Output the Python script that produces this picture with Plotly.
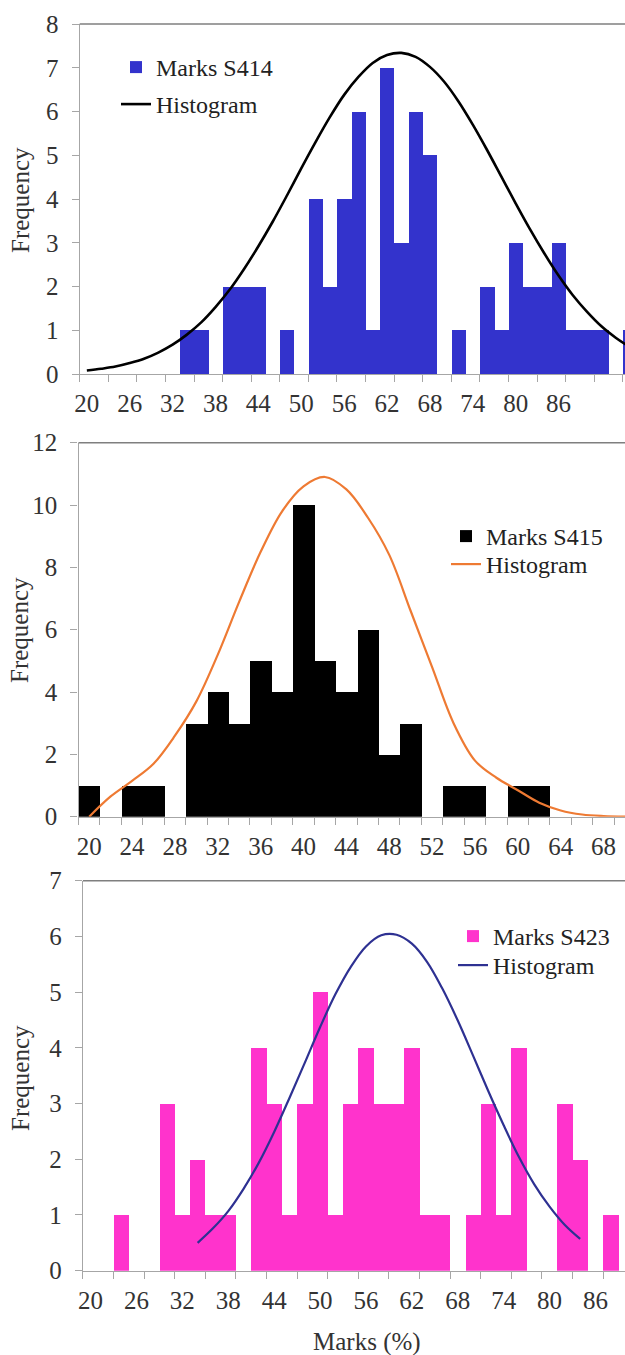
import plotly.graph_objects as go

# ---------------- data ----------------
# Panel 1 : Marks S414
s414_marks = list(range(20, 98, 2))
s414_freq = [0, 0, 0, 0, 0, 0, 0, 1, 1, 0, 2, 2, 2, 0, 1, 0, 4, 2, 4, 6,
             1, 7, 3, 6, 5, 0, 1, 0, 2, 1, 3, 2, 2, 3, 1, 1, 1, 0, 1]
s414_curve_x = list(range(20, 98, 2))
s414_curve_y = [0.08, 0.12, 0.17, 0.25, 0.35, 0.49, 0.67, 0.90, 1.18, 1.53,
                1.93, 2.40, 2.92, 3.48, 4.08, 4.70, 5.30, 5.87, 6.38, 6.79,
                7.11, 7.29, 7.34, 7.25, 7.02, 6.68, 6.23, 5.70, 5.12, 4.51,
                3.90, 3.31, 2.76, 2.25, 1.80, 1.42, 1.09, 0.83, 0.61]
s414_labels = list(range(20, 92, 6))

# Panel 2 : Marks S415
s415_marks = list(range(20, 72, 2))
s415_freq = [1, 0, 1, 1, 0, 3, 4, 3, 5, 4, 10, 5, 4, 6, 2, 3, 0, 1, 1, 0,
             1, 1, 0, 0, 0, 0]
s415_curve_x = list(range(20, 72, 2))
s415_curve_y = [0.0, 0.65, 1.15, 1.7, 2.6, 3.7, 5.2, 6.9, 8.5, 9.8, 10.6,
                10.9, 10.5, 9.6, 8.4, 6.6, 4.8, 3.0, 1.8, 1.25, 0.85, 0.45,
                0.2, 0.07, 0.02, 0.0]
s415_labels = list(range(20, 72, 4))

# Panel 3 : Marks S423
s423_marks = list(range(20, 90, 2))
s423_freq = [0, 0, 1, 0, 0, 3, 1, 2, 1, 1, 0, 4, 3, 1, 3, 5, 1, 3, 4, 3,
             3, 4, 1, 1, 0, 1, 3, 1, 4, 0, 0, 3, 2, 0, 1]
s423_curve_x = list(range(34, 86, 2))
s423_curve_y = [0.50, 0.76, 1.07, 1.47, 1.94, 2.49, 3.10, 3.73, 4.37, 4.96,
                5.45, 5.82, 6.02, 6.03, 5.87, 5.54, 5.06, 4.49, 3.86, 3.22,
                2.61, 2.04, 1.55, 1.15, 0.82, 0.57]
s423_labels = list(range(20, 92, 6))

# ---------------- styling / layout ----------------
W, H = 625, 1355
FONT = "Liberation Serif, Times New Roman, serif"
TXT = "#333333"
AX = "#A6A6A6"
FS = 25
LEG_OFF = 22  # legend top -> first row centre (px)

panels = [
    dict(name="Marks S414", marks=s414_marks, freq=s414_freq, cx=s414_curve_x, cy=s414_curve_y,
         labels=s414_labels, bar="#3333CC", line="#000000", lw=2.6,
         xleft=79.7, xmax=95.3, top=24, zero=374, ymax=8, dtick=1, tickstep=4,
         legx=116, rows=(67, 104), ftitle=200),
    dict(name="Marks S415", marks=s415_marks, freq=s415_freq, cx=s415_curve_x, cy=s415_curve_y,
         labels=s415_labels, bar="#000000", line="#EE7A33", lw=2.2,
         xleft=78.5, xmax=70.0, top=442.7, zero=816.7, ymax=12, dtick=2, tickstep=2,
         legx=446, rows=(536, 564), ftitle=630),
    dict(name="Marks S423", marks=s423_marks, freq=s423_freq, cx=s423_curve_x, cy=s423_curve_y,
         labels=s423_labels, bar="#FF33CC", line="#2E3192", lw=2.2,
         xleft=82.9, xmax=89.86, top=880.7, zero=1270.7, ymax=7, dtick=1, tickstep=4,
         legx=453, rows=(936, 965), ftitle=1078),
]

fig = go.Figure()
layout = dict(template="none", width=W, height=H, margin=dict(l=0, r=0, t=0, b=0, pad=0),
              paper_bgcolor="white", plot_bgcolor="white", bargap=0,
              showlegend=True, font=dict(family=FONT, size=FS, color=TXT))
shapes, annotations = [], []


def legend_box(xpx, rowpx):
    return dict(x=xpx / W, y=1 - (rowpx - LEG_OFF) / H, xanchor="left", yanchor="top",
                bgcolor="rgba(0,0,0,0)", borderwidth=0, itemwidth=30,
                font=dict(family=FONT, size=FS - 1, color="#222222"))


for i, p in enumerate(panels, start=1):
    sfx = "" if i == 1 else str(i)
    xa, ya = "x" + sfx, "y" + sfx
    lg_bar = "legend" if i == 1 else "legend%d" % (2 * i - 1)
    lg_line = "legend%d" % (2 * i)
    fig.add_trace(go.Bar(x=p["marks"], y=p["freq"], width=2, name=p["name"],
                         marker=dict(color=p["bar"], line=dict(width=0)),
                         xaxis=xa, yaxis=ya, legend=lg_bar))
    fig.add_trace(go.Scatter(x=p["cx"], y=p["cy"], mode="lines", name="Histogram",
                             line=dict(color=p["line"], width=p["lw"], shape="spline", smoothing=1.0),
                             xaxis=xa, yaxis=ya, legend=lg_line))
    ydom = [1 - p["zero"] / H, 1 - p["top"] / H]
    bounds = list(range(19, int(p["xmax"]) + 3, p["tickstep"]))
    layout["xaxis" + sfx] = dict(
        domain=[p["xleft"] / W, 1], range=[19, p["xmax"]], anchor=ya, automargin=False,
        tickmode="array", tickvals=p["labels"], ticktext=[str(v) for v in p["labels"]],
        ticks="", showline=True, linecolor=AX, linewidth=1.4, showgrid=False, zeroline=False,
        tickfont=dict(family=FONT, size=FS, color=TXT), ticklabelstandoff=7,
        minor=dict(tickmode="array", tickvals=bounds, ticks="outside", ticklen=7,
                   tickwidth=1.3, tickcolor=AX, showgrid=False),
    )
    layout["yaxis" + sfx] = dict(
        domain=ydom, range=[0, p["ymax"]], anchor=xa, dtick=p["dtick"], tick0=0, automargin=False,
        ticks="outside", ticklen=7, tickwidth=1.3, tickcolor=AX,
        showline=True, linecolor=AX, linewidth=1.4, showgrid=False, zeroline=False,
        tickfont=dict(family=FONT, size=FS, color=TXT), ticklabelstandoff=8,
    )
    layout[lg_bar] = legend_box(p["legx"], p["rows"][0])
    layout[lg_line] = legend_box(p["legx"], p["rows"][1])
    # top border of the plot area
    shapes.append(dict(type="line", xref=xa + " domain", yref=ya + " domain",
                       x0=0, x1=1, y0=1, y1=1, line=dict(color="#7F7F7F", width=1.6)))
    annotations.append(dict(text="Frequency", xref="paper", yref="paper",
                            x=20 / W, y=1 - p["ftitle"] / H, textangle=-90, showarrow=False,
                            xanchor="center", yanchor="middle",
                            font=dict(family=FONT, size=FS, color=TXT)))

annotations.append(dict(text="Marks (%)", xref="paper", yref="paper", x=367 / W, y=1 - 1342 / H,
                        showarrow=False, xanchor="center", yanchor="middle",
                        font=dict(family=FONT, size=FS, color=TXT)))
layout["shapes"] = shapes
layout["annotations"] = annotations
fig.update_layout(**layout)
# remove the browser's default 8px page margin so the figure sits at the window origin
fig.write_html("out.html",
               config={"displayModeBar": False},
               post_script="document.body.style.margin='0';document.body.style.overflow='hidden';")
